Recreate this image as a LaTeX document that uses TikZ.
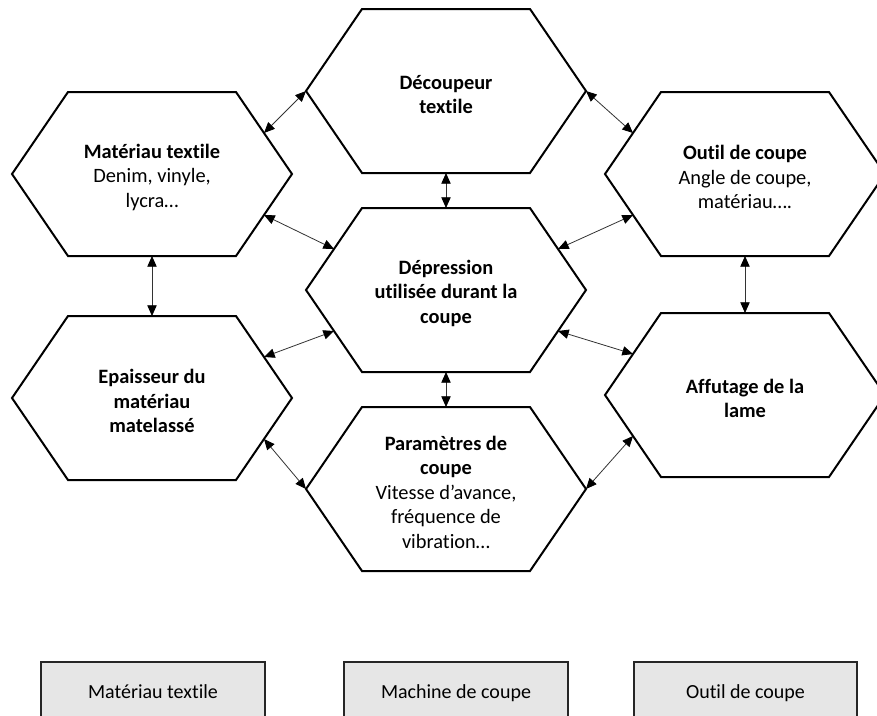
\documentclass[tikz,border=0pt]{standalone}
\usepackage{fontspec}
\setmainfont{Carlito}[Ligatures=NoCommon]
\usetikzlibrary{calc,arrows.meta}
\definecolor{legfill}{HTML}{E6E6E6}
\definecolor{legdraw}{HTML}{262626}
\newcommand\hexagone[4]{%
  \node[hextext] (#1) at (#2,#3) {#4};
  \draw[hexline] ($(#2,#3)+(-140,0)$) -- ++(56,-82) -- ++(168,0) -- ++(56,82)
     -- ++(-56,82) -- ++(-168,0) -- cycle;
  \coordinate (#1-n) at ($(#2,#3)+(0,-82)$);
  \coordinate (#1-s) at ($(#2,#3)+(0,82)$);
  \coordinate (#1-e) at ($(#2,#3)+(140,0)$);
  \coordinate (#1-w) at ($(#2,#3)+(-140,0)$);
  \coordinate (#1-ne) at ($(#2,#3)+(112,-41)$);
  \coordinate (#1-se) at ($(#2,#3)+(112,41)$);
  \coordinate (#1-nw) at ($(#2,#3)+(-112,-41)$);
  \coordinate (#1-sw) at ($(#2,#3)+(-112,41)$);
}
\begin{document}
\begin{tikzpicture}[x=0.75pt,y=-0.75pt,
  hexline/.style={draw=black, line width=1.5pt, line join=miter},
  hextext/.style={align=center, font=\fontsize{15.3}{18.4}\selectfont, inner sep=0pt, yshift=-2.5pt},
  tip/.tip={Triangle[length=8pt,width=7pt,fill=black,color=black]},
  link/.style={tip-tip, line width=0.6pt, draw=black!80},
  legbox/.style={draw=legdraw, fill=legfill, line width=1.5pt},
  legtext/.style={font=\fontsize{15}{18.4}\selectfont, inner sep=0pt, anchor=base}]
\useasboundingbox (0,0) rectangle (877,715);
\fill[white] (0,0) rectangle (877,715);

\hexagone{mat}{152}{174}{\textbf{Matériau textile}\\Denim, vinyle,\\lycra…}
\hexagone{dec}{446}{91}{\textbf{Découpeur}\\\textbf{textile}}
\hexagone{dep}{446}{290}{\textbf{Dépression}\\\textbf{utilisée durant la}\\\textbf{coupe}}
\hexagone{out}{745}{174}{\textbf{Outil de coupe}\\Angle de coupe,\\matériau….}
\hexagone{epa}{152}{398}{\textbf{Epaisseur du}\\\textbf{matériau}\\\textbf{matelassé}}
\hexagone{par}{446}{489}{\textbf{Paramètres de}\\\textbf{coupe}\\Vitesse d’avance,\\fréquence de\\vibration…}
\hexagone{aff}{745}{395}{\textbf{Affutage de la}\\\textbf{lame}}

\draw[link] (mat-ne) -- (dec-w);
\draw[link] (mat-se) -- (dep-nw);
\draw[link] (mat-s) -- (epa-n);
\draw[link] (dec-s) -- (dep-n);
\draw[link] (dec-e) -- (out-nw);
\draw[link] (out-sw) -- (dep-ne);
\draw[link] (out-s) -- (aff-n);
\draw[link] (dep-sw) -- (epa-ne);
\draw[link] (dep-s) -- (par-n);
\draw[link] (epa-se) -- (par-w);
\draw[link] (dep-se) -- (aff-nw);
\draw[link] (par-e) -- (aff-sw);

\draw[legbox] (41,662) rectangle (265,745);
\draw[legbox] (344,662) rectangle (568,745);
\draw[legbox] (634,662) rectangle (857,745);
\node[legtext] (lg1) at (153,698) {Matériau textile};
\node[legtext] (lg2) at (456,698) {Machine de coupe};
\node[legtext] (lg3) at (745.5,698) {Outil de coupe};
\end{tikzpicture}
\end{document}
